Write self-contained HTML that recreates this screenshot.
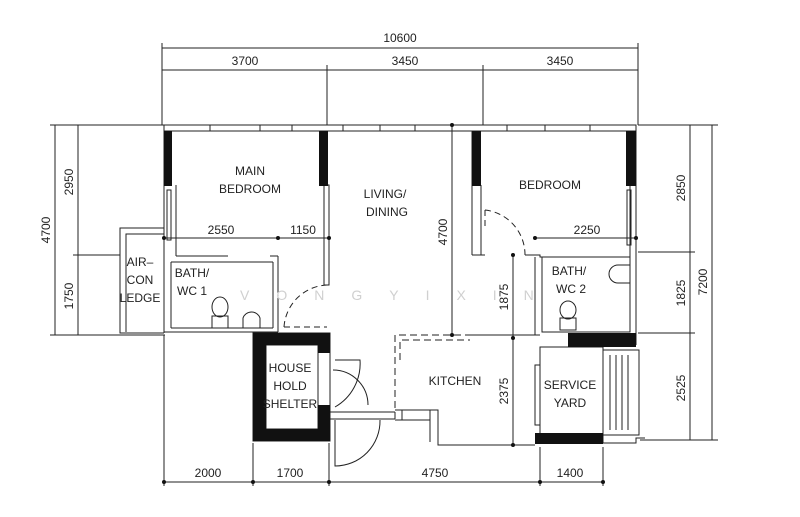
<!DOCTYPE html>
<html><head><style>html,body{margin:0;padding:0;background:#fff}svg{display:block}text{font-family:"Liberation Sans",sans-serif;fill:#222}</style></head><body>
<svg width="800" height="517" viewBox="0 0 800 517" xmlns="http://www.w3.org/2000/svg">
<g stroke="#222" stroke-width="1" fill="none">
<!-- top dims -->
<line x1="162" y1="48" x2="638" y2="48"/>
<line x1="162" y1="70" x2="638" y2="70"/>
<line x1="162" y1="43" x2="162" y2="125"/><line x1="638" y1="43" x2="638" y2="125"/>
<line x1="327" y1="65" x2="327" y2="125"/><line x1="483" y1="65" x2="483" y2="125"/>
<!-- left dims -->
<line x1="55" y1="125" x2="55" y2="335"/><line x1="78" y1="125" x2="78" y2="335"/>
<line x1="50" y1="125" x2="165" y2="125"/><line x1="73" y1="255" x2="120" y2="255"/><line x1="50" y1="335" x2="165" y2="335"/>
<!-- right dims -->
<line x1="690" y1="125" x2="690" y2="440"/><line x1="712" y1="125" x2="712" y2="440"/>
<line x1="638" y1="125" x2="718" y2="125"/><line x1="638" y1="252" x2="695" y2="252"/><line x1="638" y1="333" x2="695" y2="333"/><line x1="640" y1="440" x2="718" y2="440"/>
<!-- bottom dims -->
<line x1="164" y1="482" x2="603" y2="482"/>
<line x1="164" y1="335" x2="164" y2="486"/><line x1="253" y1="443" x2="253" y2="486"/><line x1="329" y1="443" x2="329" y2="486"/><line x1="540" y1="447" x2="540" y2="486"/><line x1="603" y1="447" x2="603" y2="486"/>
<!-- top wall -->
<rect x="164" y="125" width="472" height="6"/>
<line x1="210" y1="125" x2="210" y2="131"/><line x1="260" y1="125" x2="260" y2="131"/><line x1="292" y1="125" x2="292" y2="131"/><line x1="343" y1="125" x2="343" y2="131"/><line x1="380" y1="125" x2="380" y2="131"/><line x1="415" y1="125" x2="415" y2="131"/><line x1="507" y1="125" x2="507" y2="131"/><line x1="545" y1="125" x2="545" y2="131"/><line x1="590" y1="125" x2="590" y2="131"/>
<!-- main bedroom walls -->
<line x1="164" y1="131" x2="164" y2="333"/><line x1="176" y1="185" x2="176" y2="256"/>
<rect x="167" y="190" width="4" height="50"/>
<line x1="176" y1="256" x2="228" y2="256"/><line x1="176" y1="256" x2="176" y2="256"/>
<line x1="270" y1="256" x2="278" y2="256"/><line x1="278" y1="256" x2="278" y2="332"/>
<line x1="171" y1="262" x2="273" y2="262"/><line x1="171" y1="262" x2="171" y2="328"/><line x1="171" y1="328" x2="273" y2="328"/><line x1="273" y1="262" x2="273" y2="328"/>
<line x1="164" y1="332" x2="278" y2="332"/>
<!-- aircon ledge -->
<polyline points="164,228 120,228 120,333 164,333"/><polyline points="164,234 126,234 126,332"/>
<!-- living wall -->
<rect x="324" y="185" width="5" height="100"/>
<path d="M284 327 A45 45 0 0 1 327 285" stroke-dasharray="6 4"/><line x1="284" y1="327" x2="327" y2="327" stroke-dasharray="6 4"/>
<!-- shelter -->
<rect x="253" y="333" width="77" height="108"/>
<rect x="266" y="345" width="52" height="84"/>
<!-- entry door -->
<line x1="330" y1="412" x2="395" y2="412"/><line x1="330" y1="419" x2="395" y2="419"/>
<path d="M335 360 L360 360 A50 50 0 0 1 335 407"/><path d="M333 370 A35 35 0 0 1 368 405"/>
<path d="M335 420 L335 466 A45 45 0 0 0 380 420"/>
<!-- kitchen -->
<polyline points="395,419 395,335 470,335" stroke-dasharray="7 4"/>
<polyline points="400,360 400,340 470,340" stroke-dasharray="7 4"/>
<line x1="470" y1="335" x2="540" y2="335"/>
<polyline points="395,410 430,410 430,420 402,420 402,410"/>
<polyline points="430,410 438,410 438,445 535,445"/>
<polyline points="395,420 430,420 430,442"/>
<!-- bedroom 2 -->
<line x1="472" y1="131" x2="472" y2="255"/><line x1="481" y1="185" x2="481" y2="255"/><line x1="472" y1="255" x2="485" y2="255"/>
<path d="M485 210 L485 230 M485 210 A45 45 0 0 1 525 255" stroke-dasharray="6 4"/>
<polyline points="525,255 540,255 540,257 630,257 630,185"/>
<line x1="636" y1="131" x2="636" y2="345"/>
<rect x="627" y="190" width="4" height="55"/>
<rect x="542" y="257" width="88" height="75"/>
<line x1="535" y1="257" x2="535" y2="335"/>
<!-- service yard -->
<rect x="540" y="347" width="63" height="96"/>
<rect x="535" y="365" width="5" height="60"/>
<rect x="603" y="350" width="36" height="85"/>
<line x1="610" y1="355" x2="610" y2="430"/><line x1="616" y1="355" x2="616" y2="430"/><line x1="622" y1="355" x2="622" y2="430"/><line x1="628" y1="355" x2="628" y2="430"/>
<polyline points="603,443 636,443 636,438 645,438"/>
<!-- inner dims -->
<line x1="452" y1="125" x2="452" y2="335"/>
<line x1="513" y1="255" x2="513" y2="445"/>
<line x1="164" y1="238" x2="330" y2="238"/><line x1="535" y1="238" x2="636" y2="238"/>
<!-- fixtures -->
<ellipse cx="220" cy="307" rx="8" ry="10"/><rect x="212" y="316" width="16" height="12"/>
<path d="M243 328 L243 318 A9 9 0 0 1 260 318 L260 328"/>
<ellipse cx="568" cy="310" rx="8" ry="9"/><rect x="560" y="318" width="16" height="12"/>
<path d="M630 265 L618 265 A9 9 0 0 0 618 283 L630 283"/>
</g>
<g fill="#111">
<rect x="164" y="131" width="8" height="55"/><rect x="319" y="131" width="9" height="55"/>
<rect x="472" y="131" width="9" height="55"/><rect x="626" y="131" width="10" height="55"/>
<rect x="253" y="333" width="77" height="12"/><rect x="253" y="333" width="13" height="108"/><rect x="253" y="429" width="77" height="12"/><rect x="318" y="333" width="12" height="20"/><rect x="318" y="405" width="12" height="36"/>
<rect x="568" y="333" width="68" height="14"/><rect x="535" y="433" width="68" height="11"/>
<circle cx="164" cy="238" r="2"/><circle cx="278" cy="238" r="2"/><circle cx="329" cy="238" r="2"/><circle cx="535" cy="238" r="2"/><circle cx="636" cy="238" r="2"/>
<circle cx="452" cy="125" r="2"/><circle cx="452" cy="335" r="2"/><circle cx="513" cy="255" r="2"/><circle cx="513" cy="338" r="2"/><circle cx="513" cy="445" r="2"/>
<circle cx="164" cy="482" r="2"/><circle cx="253" cy="482" r="2"/><circle cx="329" cy="482" r="2"/><circle cx="540" cy="482" r="2"/><circle cx="603" cy="482" r="2"/>
</g>
<g font-size="12" text-anchor="middle">
<text x="400" y="42">10600</text>
<text x="245" y="65">3700</text><text x="405" y="65">3450</text><text x="560" y="65">3450</text>
<text x="208" y="477">2000</text><text x="290" y="477">1700</text><text x="435" y="477">4750</text><text x="570" y="477">1400</text>
<text x="221" y="234">2550</text><text x="303" y="234">1150</text><text x="587" y="234">2250</text>
<text transform="translate(50,230) rotate(-90)">4700</text>
<text transform="translate(73,182) rotate(-90)">2950</text>
<text transform="translate(73,296) rotate(-90)">1750</text>
<text transform="translate(447,232) rotate(-90)">4700</text>
<text transform="translate(508,297) rotate(-90)">1875</text>
<text transform="translate(508,391) rotate(-90)">2375</text>
<text transform="translate(685,188) rotate(-90)">2850</text>
<text transform="translate(685,293) rotate(-90)">1825</text>
<text transform="translate(685,388) rotate(-90)">2525</text>
<text transform="translate(707,282) rotate(-90)">7200</text>
<text x="250" y="175">MAIN</text><text x="250" y="193">BEDROOM</text>
<text x="385" y="198">LIVING/</text><text x="387" y="216">DINING</text>
<text x="550" y="189">BEDROOM</text>
<text x="140" y="266">AIR–</text><text x="140" y="284">CON</text><text x="140" y="302">LEDGE</text>
<text x="192" y="277">BATH/</text><text x="192" y="295">WC 1</text>
<text x="569" y="275">BATH/</text><text x="571" y="293">WC 2</text>
<text x="290" y="372">HOUSE</text><text x="290" y="390">HOLD</text><text x="290" y="408">SHELTER</text>
<text x="455" y="385">KITCHEN</text>
<text x="570" y="389">SERVICE</text><text x="570" y="407">YARD</text>
</g>
<text x="240" y="300" font-size="14" fill="#ccc" style="fill:#d0d0d0;letter-spacing:27px">VONGYIXIN</text>
</svg>
</body></html>
